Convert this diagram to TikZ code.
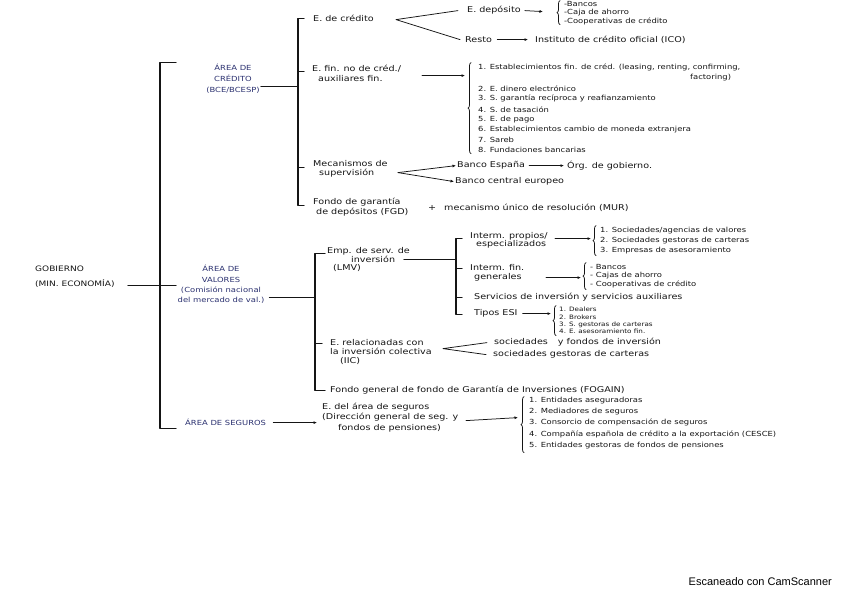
\documentclass[tikz,border=0pt]{standalone}
\usepackage{fontspec}
\setmainfont{DejaVu Sans}[FakeStretch=1.2]
\setsansfont{Liberation Sans}
\usetikzlibrary{arrows.meta,calc,positioning,decorations.pathreplacing}
\definecolor{scanInk}{HTML}{151515}
\definecolor{scanBlue}{HTML}{2B3170}

\begin{document}
\begin{tikzpicture}[x=1pt,y=-1pt,>={Latex[length=3.5pt,width=3pt]},line cap=round,line join=round]
\path[fill=white] (0,0) rectangle (848,599);
\tikzset{txt/.style={anchor=west,text=scanInk,font=\fontsize{8}{10}\selectfont,inner sep=1pt,align=left},item/.style={txt,font=\fontsize{7}{9}\selectfont},tiny/.style={txt,font=\fontsize{6}{7}\selectfont},area/.style={text=scanBlue,font=\fontsize{7}{11}\selectfont,align=center,inner sep=1pt},wire/.style={draw=scanInk,line width=1.25pt},thinwire/.style={draw=scanInk,line width=0.75pt},arrow/.style={thinwire,->},curly/.style={thinwire,decorate,decoration={brace,amplitude=3pt}}}
% gobierno y corchete principal
\node[txt,font=\fontsize{7.5}{15}\selectfont] (gob) at (34,276) {GOBIERNO\\(MIN. ECONOMÍA)};
\coordinate (gobR) at (128,285); \coordinate (valT) at (176,285);
\draw[wire] (gobR) -- (valT);
\draw[wire] (176,62) -- (160,62) -- (160,428) -- (176,428);
% area de credito
\node[area] (acred) at (233,78) {ÁREA DE\\CRÉDITO\\(BCE/BCESP)};
\coordinate (bcred) at (298,86);
\draw[wire] (acred.east |- bcred) -- (bcred);
\draw[wire] (304,18) -- (298,18) -- (298,205) -- (304,205); \draw[wire] (298,71) -- (304,71); \draw[wire] (298,167) -- (304,167);
\node[txt] (ecred) at (312,18) {E. de crédito};
\coordinate (fork1) at (396,19);
\node[txt] (edep) at (466,10) {E. depósito}; \node[txt] (resto) at (464,39) {Resto};
\draw[thinwire] ([xshift=-8pt]edep.west) -- (fork1) -- ([xshift=-4pt]resto.west);
\coordinate (br1) at (543,11);
\draw[arrow] ([xshift=3pt]edep.east) -- (br1);
\draw[curly] (560,24) -- (560,0);
\node[item] (dep1) at (563,3) {-Bancos}; \node[item] (dep2) at (563,12) {-Caja de ahorro}; \node[item] (dep3) at (563,21) {-Cooperativas de crédito};
\node[txt] (ico) at (534,39) {Instituto de crédito oficial (ICO)};
\draw[arrow] ([xshift=4pt]resto.east) -- ([xshift=-6pt]ico.west);
\node[txt] (efin) at (311,73) {E. fin. no de créd./\\\hspace{6pt}auxiliares fin.};
\coordinate (efinR) at (422,75); \coordinate (br2) at (465,75);
\draw[arrow] (efinR) -- (br2);
\draw[curly] (471,153) -- (471,62);
\node[item] (f1) at (477,67) {1. Establecimientos fin. de créd. (leasing, renting, confirming,}; \node[item] (f1b) at (689,77) {factoring)};
\node[item] (f2) at (477,88) {2. E. dinero electrónico}; \node[item] (f3) at (477,98) {3. S. garantía recíproca y reafianzamiento};
\node[item] (f4) at (477,109) {4. S. de tasación}; \node[item] (f5) at (477,119) {5. E. de pago};
\node[item] (f6) at (477,129) {6. Establecimientos cambio de moneda extranjera}; \node[item] (f7) at (477,139) {7. Sareb};
\node[item] (f8) at (477,149) {8. Fundaciones bancarias};
\node[txt,font=\fontsize{8}{9}\selectfont] (meca) at (312,168) {Mecanismos de\\\hspace{6pt}supervisión};
\coordinate (fork2) at (398,172);
\node[txt] (bde) at (456,165) {Banco España}; \node[txt] (bce) at (454,181) {Banco central europeo};
\draw[arrow] (fork2) -- (bde.west); \draw[arrow] (fork2) -- (bce.west);
\node[txt] (org) at (566,165) {Órg. de gobierno.};
\draw[arrow] ([xshift=3pt]bde.east) -- ([xshift=-2pt]org.west);
\node[txt] (fgd) at (312,207) {Fondo de garantía\\\hspace{3pt}de depósitos (FGD)};
\node[txt] (mur) at (427,207) {+\hspace{8pt}mecanismo único de resolución (MUR)};
% area de valores
\node[area,font=\fontsize{7}{10.3}\selectfont] (aval) at (221,284) {ÁREA DE\\VALORES\\(Comisión nacional\\del mercado de val.)};
\coordinate (bval) at (315,297);
\draw[wire] ([xshift=4pt]aval.east |- bval) -- (bval);
\draw[wire] (325,253) -- (315,253) -- (315,390) -- (325,390); \draw[wire] (315,343) -- (322,343);
\node[txt,font=\fontsize{8}{8}\selectfont,anchor=north west] (emp) at (326,246) {Emp. de serv. de\\\hspace{24pt}inversión\\\hspace{6pt}(LMV)};
\coordinate (empR) at (404,259); \coordinate (bemp) at (456,259);
\draw[wire] (empR) -- (bemp);
\draw[wire] (462,238) -- (456,238) -- (456,314) -- (462,314); \draw[wire] (456,268) -- (462,268); \draw[wire] (456,297) -- (462,297);
\node[txt,font=\fontsize{8}{8}\selectfont] (ip) at (469,240) {Interm. propios/\\\hspace{6pt}especializados};
\coordinate (ipR) at (555,238); \coordinate (br3) at (591,238);
\draw[arrow] (ipR) -- (br3);
\draw[curly] (596,255) -- (596,225);
\node[item] (ip1) at (599,230) {1. Sociedades/agencias de valores}; \node[item] (ip2) at (599,240) {2. Sociedades gestoras de carteras}; \node[item] (ip3) at (599,250) {3. Empresas de asesoramiento};
\node[txt,font=\fontsize{8}{9}\selectfont] (ifg) at (469,272) {Interm. fin.\\\hspace{4pt}generales};
\coordinate (ifgR) at (546,277); \coordinate (br4) at (581,277);
\draw[arrow] (ifgR) -- (br4);
\draw[curly] (586,289) -- (586,262);
\node[item] (ig1) at (589,266) {- Bancos}; \node[item] (ig2) at (589,275) {- Cajas de ahorro}; \node[item] (ig3) at (589,284) {- Cooperativas de crédito};
\node[txt] (serv) at (473,297) {Servicios de inversión y servicios auxiliares};
\node[txt] (esi) at (473,313) {Tipos ESI};
\coordinate (br5) at (551,313);
\draw[arrow] ([xshift=4pt]esi.east) -- (br5);
\draw[curly] (556,335) -- (556,305);
\node[tiny] (es1) at (558,309) {1. Dealers}; \node[tiny] (es2) at (558,317) {2. Brokers}; \node[tiny] (es3) at (558,324) {3. S. gestoras de carteras}; \node[tiny] (es4) at (558,331) {4. E. asesoramiento fin.};
\node[txt,font=\fontsize{8}{9}\selectfont] (iic) at (329,351) {E. relacionadas con\\la inversión colectiva\\\hspace{10pt}(IIC)};
\coordinate (fork3) at (443,348);
\node[txt] (soc1) at (493,342) {sociedades\hspace{10pt}y fondos de inversión}; \node[txt] (soc2) at (492,354) {sociedades gestoras de carteras};
\draw[thinwire] ([xshift=-6pt]soc1.west) -- (fork3) -- ([xshift=-6pt]soc2.west);
\node[txt] (fogain) at (329,390) {Fondo general de fondo de Garantía de Inversiones (FOGAIN)};
% area de seguros
\node[area,anchor=west] (aseg) at (184,422) {ÁREA DE SEGUROS};
\node[txt,font=\fontsize{8}{10.5}\selectfont] (eseg) at (321,417) {E. del área de seguros\\(Dirección general de seg. y\\\hspace{16pt}fondos de pensiones)};
\draw[arrow] ([xshift=6pt]aseg.east) -- ([xshift=-4pt]eseg.west |- aseg.east);
\coordinate (esegR) at (466,420); \coordinate (br6) at (518,417);
\draw[arrow] (esegR) -- (br6);
\draw[curly] (524,452) -- (524,396);
\node[item] (s1) at (528,400) {1. Entidades aseguradoras}; \node[item] (s2) at (528,411) {2. Mediadores de seguros};
\node[item] (s3) at (528,422) {3. Consorcio de compensación de seguros}; \node[item] (s4) at (528,434) {4. Compañía española de crédito a la exportación (CESCE)};
\node[item] (s5) at (528,445) {5. Entidades gestoras de fondos de pensiones};
\node[anchor=east,font=\sffamily\fontsize{11}{13}\selectfont,text=black,inner sep=0pt] (scan) at (832,581) {Escaneado con CamScanner};
\end{tikzpicture}
\end{document}
